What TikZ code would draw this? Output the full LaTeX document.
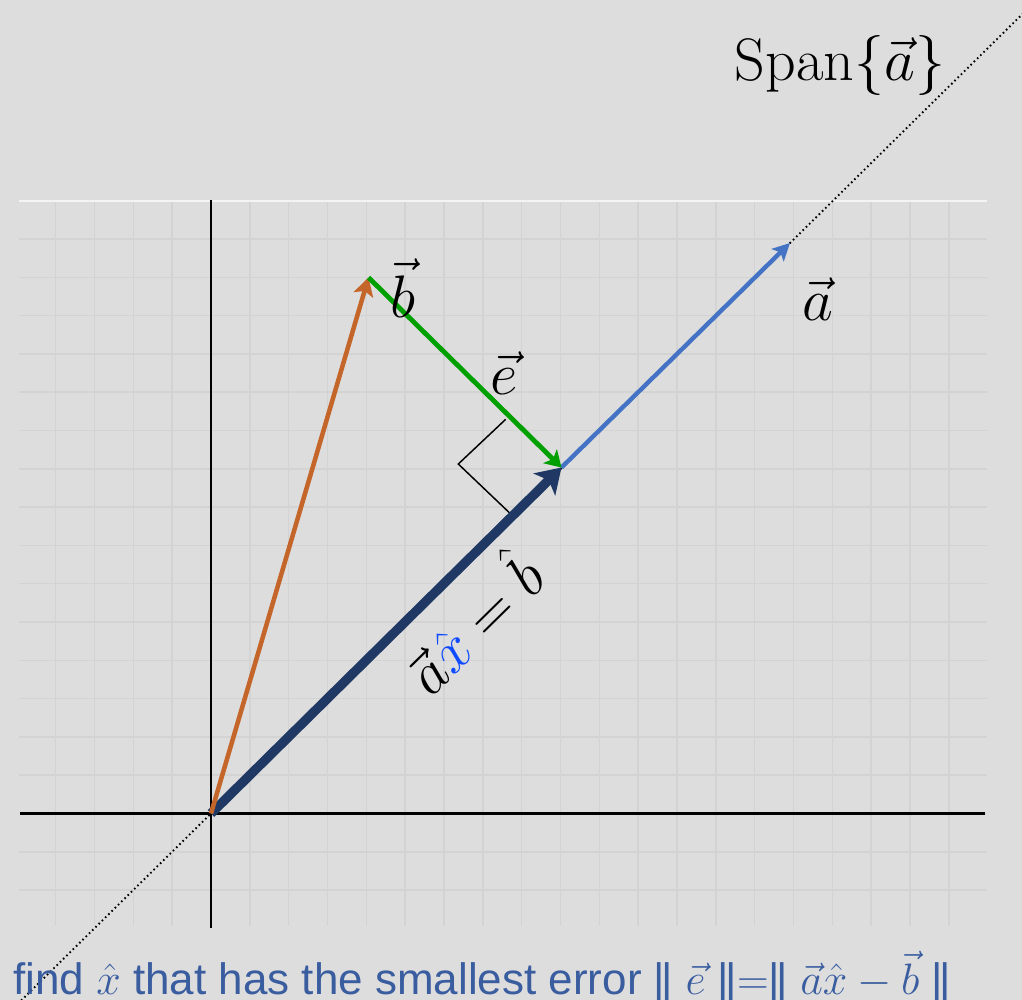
\RequirePackage{fix-cm}
\documentclass[tikz,border=0pt]{standalone}
\usepackage{fontspec}
\newfontfamily\capfont{Liberation Sans}
\usetikzlibrary{arrows.meta}
\definecolor{bgc}{HTML}{DDDDDD}
\definecolor{gridc}{HTML}{D3D3D3}
\definecolor{topc}{HTML}{F4F4F4}
\definecolor{orangec}{HTML}{C4652A}
\definecolor{greenc}{HTML}{00A000}
\definecolor{bluec}{HTML}{4472C4}
\definecolor{navyc}{HTML}{1F3864}
\definecolor{capc}{HTML}{3A5DA0}
\definecolor{xblue}{HTML}{0F4BFF}
\tikzset{
  gridline/.style={gridc, line width=1.1pt},
  axisline/.style={black, line width=2pt},
  spanline/.style={black, line width=1.4pt, dash pattern=on 1.2pt off 2.2pt},
  vecorange/.style={orangec, line width=3.4pt, -{Stealth[length=13.5pt,width=15pt,inset=3pt]}},
  vecgreen/.style={greenc, line width=3.6pt, -{Stealth[length=12pt,width=14.5pt,inset=3pt]}},
  vecblue/.style={bluec, line width=3.3pt, -{Stealth[length=13pt,width=13pt,inset=3pt]}},
  vecnavy/.style={navyc, line width=7pt, -{Stealth[length=18pt,width=23pt,inset=4.5pt]}},
  rightmark/.style={black, line width=1.1pt},
  biglabel/.style={inner sep=0pt, font=\fontsize{45}{50}\selectfont},
}
\begin{document}
\begin{tikzpicture}[x=0.75pt,y=-0.75pt]
\useasboundingbox (0,0) rectangle (1022,1000);
\clip (0,0) rectangle (1022,1000);
\fill[bgc] (0,0) rectangle (1022,1000);
% grid
\foreach \k in {-4,...,19}
  \draw[gridline] ({211+\k*38.83},201) -- ({211+\k*38.83},925.5);
\foreach \k in {-2,...,15}
  \draw[gridline] (19,{813.5-\k*38.3}) -- (987,{813.5-\k*38.3});
\draw[topc, line width=1.3pt] (19,201) -- (987,201);
% axes
\draw[axisline] (211,200) -- (211,928);
\draw[axisline] (20,813.5) -- (985,813.5);
% points
\coordinate (O) at (211,813.5);
\coordinate (B) at (368.5,277.5);
\coordinate (P) at (561.5,467.5);
\coordinate (A) at (790,243);
\coordinate (L1) at (5,1016.4);
\coordinate (L2) at (1050.6,-13.7);
\coordinate (M1) at (505.7,419.3);
\coordinate (M2) at (458.3,464);
\coordinate (M3) at (510,513.3);
% span line
\draw[spanline] (L1) -- (L2);
% right angle
\draw[rightmark] (M1) -- (M2) -- (M3);
% vectors
\draw[vecblue] (P) -- (A);
\draw[vecnavy] (O) -- (P);
\draw[vecorange] (O) -- (B);
\draw[vecgreen] (B) -- (P);
% labels
\node[biglabel, anchor=base] (spanlab) at (840,80) {Span$\{\vec{a}\}$};
\node[biglabel, anchor=base] (blab) at (403,317) {$\vec{b}$};
\node[biglabel, anchor=base] (elab) at (504,394) {$\vec{e}$};
\node[biglabel, anchor=base] (alab) at (818,320) {$\vec{a}$};
\node[biglabel, rotate=44.5] (axlab) at (470,620) {$\vec{a}{\color{xblue}\hat{x}} = \hat{b}$};
\node[inner sep=0pt, anchor=base west, text=capc, font=\capfont\fontsize{33}{37}\selectfont] (cap) at (13,994)
  {find $\hat{x}$ that has the smallest error |\kern-0.08em| $\vec{e}$ |\kern-0.08em|$=$|\kern-0.08em| $\vec{a}\hat{x}-\vec{b}$ |\kern-0.08em|};
\end{tikzpicture}
\end{document}
